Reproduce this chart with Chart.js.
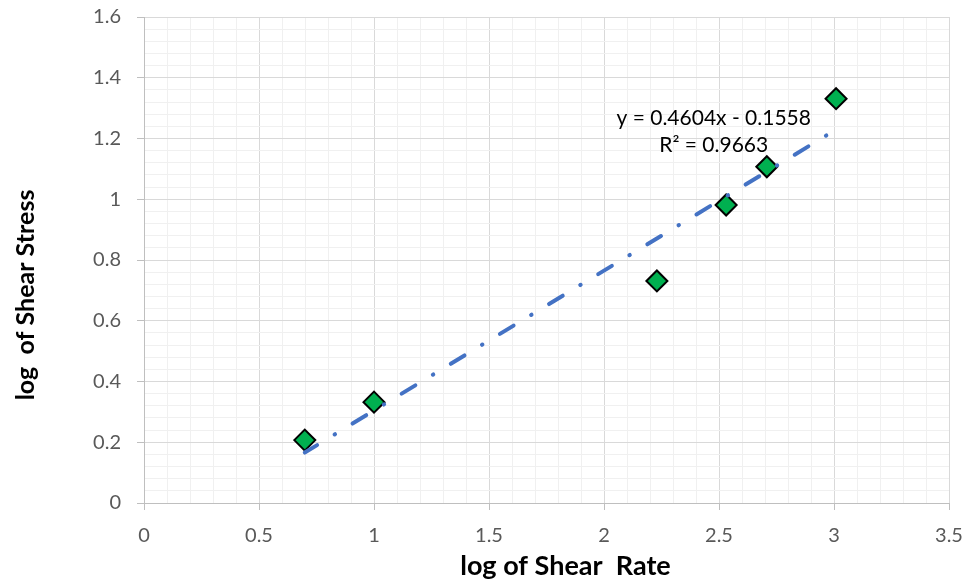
<!DOCTYPE html>
<html>
<head>
<meta charset="utf-8">
<script src="https://cdn.jsdelivr.net/npm/chart.js@4/dist/chart.umd.min.js"></script>
<style>
  html, body { margin: 0; padding: 0; background: #fff; }
  #wrap { width: 971px; height: 587px; position: relative; }
</style>
</head>
<body>
<div id="wrap"><canvas id="flowChart"></canvas></div>
<script>
// log-log flow curve with a linear trendline
const logShearRate = [0.699, 1.0, 2.23, 2.531, 2.708, 3.009];
const logShearStress = [0.207, 0.332, 0.731, 0.981, 1.107, 1.331];

const trendSlope = 0.4604;
const trendIntercept = -0.1558;
const trendR2 = 0.9663;

const xTicks = [0, 0.5, 1, 1.5, 2, 2.5, 3, 3.5];
const yTicks = [0, 0.2, 0.4, 0.6, 0.8, 1, 1.2, 1.4, 1.6];

const xTitle = "log of Shear  Rate";
const yTitle = "log  of Shear Stress";

const points = logShearRate.map((x, i) => ({ x: x, y: logShearStress[i] }));
const xMin = Math.min(...logShearRate);
const xMax = Math.max(...logShearRate);
const trendPoints = [xMin, xMax].map(x => ({ x: x, y: trendSlope * x + trendIntercept }));

const isMajor = (v, list) => list.some(t => Math.abs(t - v) < 1e-6);
const fmt = v => String(Math.round(v * 10) / 10);

// equation label and axis titles
const chartText = {
  id: "chartText",
  afterDatasetsDraw(chart) {
    const { ctx, scales } = chart;
    ctx.save();
    ctx.fillStyle = "#000";
    ctx.textAlign = "center";
    ctx.textBaseline = "alphabetic";

    const cx = scales.x.getPixelForValue(2.477);
    const sign = trendIntercept < 0 ? " - " : " + ";
    ctx.font = "21px Lato";
    ctx.fillText("y = " + trendSlope.toFixed(4) + "x" + sign + Math.abs(trendIntercept).toFixed(4), cx, scales.y.getPixelForValue(1.245));
    ctx.fillText("R\u00B2 = " + trendR2.toFixed(4), cx, scales.y.getPixelForValue(1.157));

    ctx.font = "bold 27px Lato";
    ctx.fillText(xTitle, 565.5, 575);

    ctx.font = "bold 25px Lato";
    ctx.translate(33.5, 295);
    ctx.rotate(-Math.PI / 2);
    ctx.fillText(yTitle, 0, 0);
    ctx.restore();
  }
};

const gridColor = (list) => ctx => isMajor(ctx.tick.value, list) ? "#d9d9d9" : "#f0f0f0";
const tickMarkColor = (list) => ctx => isMajor(ctx.tick.value, list) ? "#bfbfbf" : "rgba(0,0,0,0)";

// fixed axis boxes so the plot area lands where it should
const fixBox = (w, h) => scale => {
  if (w) scale.width = w;
  if (h) scale.height = h;
  scale.paddingTop = 0;
  scale.paddingBottom = 0;
  scale.paddingLeft = 0;
  scale.paddingRight = 0;
};

new Chart(document.getElementById("flowChart"), {
  type: "scatter",
  data: {
    datasets: [
      {
        // trendline goes first so it sits over the markers
        type: "line",
        data: trendPoints,
        borderColor: "#4472C4",
        borderWidth: 4,
        borderDash: [16, 20.5, 0.5, 20.5],
        borderDashOffset: 1.6,
        borderCapStyle: "round",
        pointRadius: 0,
        fill: false
      },
      {
        data: points,
        pointStyle: "rectRot",
        pointRadius: 10.5,
        pointBackgroundColor: "#00B050",
        pointBorderColor: "#000",
        pointBorderWidth: 2,
        showLine: false
      }
    ]
  },
  options: {
    responsive: true,
    maintainAspectRatio: false,
    animation: false,
    layout: { padding: { top: 17, right: 22, left: 0, bottom: 0 } },
    plugins: { legend: { display: false }, tooltip: { enabled: false } },
    scales: {
      x: {
        type: "linear",
        min: 0,
        max: 3.5,
        afterFit: fixBox(0, 84),
        ticks: {
          stepSize: 0.1,
          autoSkip: false,
          maxRotation: 0,
          padding: 14,
          color: "#595959",
          font: { family: "Lato", size: 20 },
          callback: v => isMajor(v, xTicks) ? fmt(v) : ""
        },
        grid: { color: gridColor(xTicks), tickColor: tickMarkColor(xTicks), tickLength: 7 },
        border: { color: "#bfbfbf" }
      },
      y: {
        type: "linear",
        min: 0,
        max: 1.6,
        afterFit: fixBox(144, 0),
        ticks: {
          stepSize: 0.04,
          autoSkip: false,
          padding: 16,
          color: "#595959",
          font: { family: "Lato", size: 20 },
          callback: v => isMajor(v, yTicks) ? fmt(v) : ""
        },
        grid: { color: gridColor(yTicks), tickColor: tickMarkColor(yTicks), tickLength: 7 },
        border: { color: "#bfbfbf" }
      }
    }
  },
  plugins: [chartText]
});
</script>
</body>
</html>
